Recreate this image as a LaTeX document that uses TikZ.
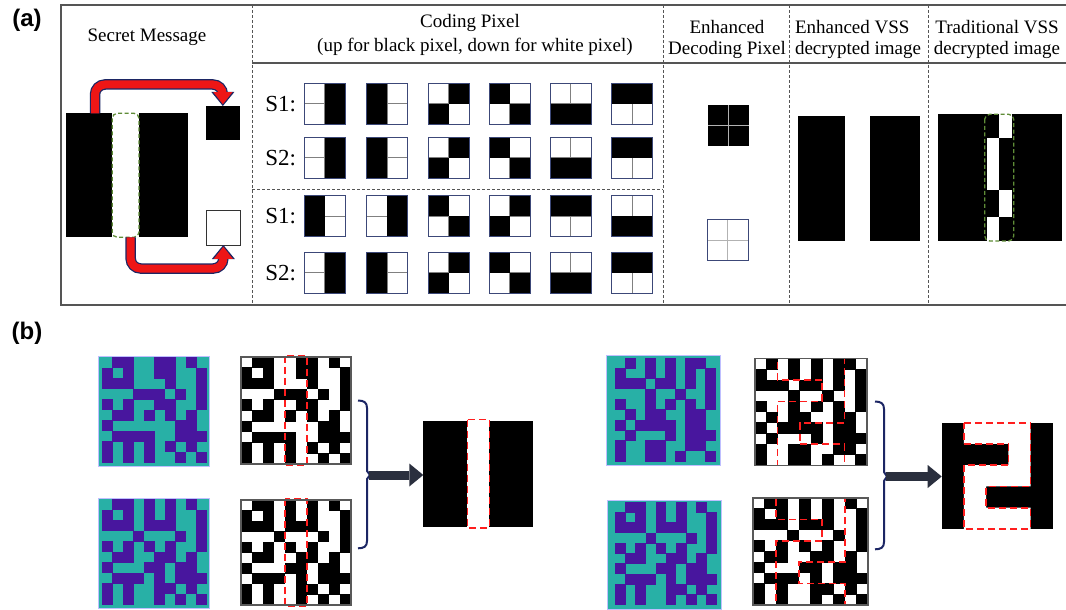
\documentclass[tikz,border=0pt]{standalone}
\usepackage{fontspec}
\setmainfont{Liberation Serif}
\newfontfamily\labfont{Liberation Sans}
\usetikzlibrary{arrows.meta,calc}
\definecolor{tealc}{RGB}{40,176,166}
\definecolor{purp}{RGB}{72,22,158}
\definecolor{navyc}{RGB}{28,38,100}
\definecolor{framegray}{RGB}{85,85,85}
\definecolor{pixborder}{RGB}{60,72,120}
\definecolor{arrowdark}{RGB}{42,47,62}
\definecolor{redarr}{RGB}{238,22,22}
\definecolor{greendash}{RGB}{95,140,55}
\definecolor{reddash}{RGB}{255,30,30}

% share 2 (common to both examples)
\def\patS{{0,1,1,0,1,0,1,0,1,0},{1,0,1,0,1,0,1,0,0,1},{1,1,1,0,1,1,1,0,0,1},{0,0,0,1,0,0,0,1,0,1},{1,0,1,0,1,0,1,0,0,1},{0,1,1,0,0,1,1,0,1,0},{1,0,0,0,1,1,0,1,1,0},{0,1,1,1,0,1,0,1,1,1},{1,0,1,0,0,1,1,0,1,0},{1,0,1,0,0,1,0,1,0,1}}
% share 1, left example
\def\patLA{{0,1,1,0,0,1,1,0,1,0},{1,0,1,0,0,1,1,0,0,1},{1,1,1,0,0,0,1,0,0,1},{0,0,0,1,1,1,0,1,0,1},{1,0,1,0,0,1,1,0,0,1},{0,1,1,0,1,0,1,0,1,0},{1,0,0,0,0,0,0,1,1,0},{0,1,1,1,1,0,0,1,1,1},{1,0,1,0,1,0,1,0,1,0},{1,0,1,0,1,0,0,1,0,1}}
% share 1, right example
\def\patRA{{0,1,0,1,0,1,0,1,1,0},{1,0,0,1,0,1,0,1,0,1},{1,1,1,0,1,1,0,1,0,1},{0,0,0,1,0,0,1,0,0,1},{1,0,0,1,0,1,0,1,0,1},{0,1,0,1,1,0,0,1,1,0},{1,0,1,1,1,1,0,1,1,0},{0,1,0,0,0,1,0,1,1,1},{1,0,0,1,1,0,0,1,1,0},{1,0,0,1,1,0,1,0,0,1}}

\newcommand\pixgrid[2]{%
  \foreach \gr [count=\ri from 0] in #2 {%
    \foreach \gv [count=\ci from 0] in \gr {%
      \ifnum\gv=1 \fill[#1] (\ci-0.03,\ri-0.03) rectangle (\ci+1.03,\ri+1.03);\fi
    }}}

% coding pixel: x, y, name, TL, TR, BL, BR
\newcommand\cpx[7]{%
  \node[anchor=north west, minimum size=41pt] (#3) at (#1,#2) {};
  \draw[gray, line width=0.8pt] (#3.north) -- (#3.south) (#3.west) -- (#3.east);
  \ifnum#4=1 \fill (#3.north west) rectangle (#3.center);\fi
  \ifnum#5=1 \fill (#3.north) rectangle (#3.east);\fi
  \ifnum#6=1 \fill (#3.west) rectangle (#3.south);\fi
  \ifnum#7=1 \fill (#3.center) rectangle (#3.south east);\fi
  \draw[pixborder, line width=0.9pt] (#3.north west) rectangle (#3.south east);
}

\begin{document}
\begin{tikzpicture}[x=1pt,y=-1pt,
  every node/.style={inner sep=0pt, outer sep=0pt},
  hdr/.style={font=\fontsize{19}{21}\selectfont},
  slab/.style={font=\fontsize{23}{25}\selectfont, anchor=east},
  plab/.style={font=\labfont\bfseries\fontsize{24}{26}\selectfont},
  frame/.style={draw=framegray, line width=1.3pt},
  sepline/.style={draw=framegray, line width=0.9pt, dash pattern=on 3pt off 2pt},
  imgbox/.style={anchor=north west},
  redout/.style={draw=navyc, line width=10.5pt, rounded corners=10pt, -{Triangle[length=14pt,width=23pt,line width=0pt]}},
  redin/.style={draw=redarr, line width=8pt, rounded corners=10pt, shorten >=1.8pt, -{Triangle[length=12pt,width=19pt,line width=0pt]}},
  darrow/.style={draw=arrowdark, line width=9pt, -{Triangle[length=14pt,width=23pt,line width=0pt]}},
  brace/.style={draw=navyc, line width=2pt},
  redd/.style={draw=reddash, line width=1.6pt, dash pattern=on 7pt off 4pt},
  greend/.style={draw=greendash, line width=1.3pt, dash pattern=on 4pt off 2.5pt, rounded corners=5pt},
  tealframe/.style={draw=blue!25, line width=0.8pt},
  bwframe/.style={draw=gray!70!black, line width=1.6pt}]
\useasboundingbox (0,0) rectangle (1066,610);
\fill[white] (0,0) rectangle (1066,610);

% ---------- (a) frame ----------
\draw[frame] (1066,5) -- (61,5) -- (61,305) -- (1066,305);
\draw[frame] (252,63) -- (1066,63);
\foreach \xx in {252,663,789,928} \draw[sepline] (\xx,5) -- (\xx,305);
\draw[sepline] (252,189) -- (663,189);

\node[plab] (la) at (27,20) {(a)};
\node[plab] (lb) at (27,333) {(b)};

\node[hdr] (t1) at (147,37) {Secret Message};
\node[hdr] (t2) at (470,23) {Coding Pixel};
\node[hdr] (t3) at (475,47) {(up for black pixel, down for white pixel)};
\node[hdr] (t4) at (727,27) {Enhanced};
\node[hdr] (t5) at (727,50) {Decoding Pixel};
\node[hdr, anchor=west] (t6) at (795,27) {Enhanced VSS};
\node[hdr, anchor=west] (t7) at (795,50) {decrypted image};
\node[hdr] (t8) at (997,27) {Traditional VSS};
\node[hdr] (t9) at (997,50) {decrypted image};

% ---------- secret message ----------
\node[imgbox, fill=black, minimum width=122pt, minimum height=124pt] (secret) at (65.7,113.3) {};
\node[imgbox, fill=white, minimum width=26.7pt, minimum height=124pt] (stripe) at (112.3,113.3) {};
\draw[greend] (stripe.north west) rectangle (stripe.south east);
\node[imgbox, fill=black, minimum width=34.3pt, minimum height=34pt] (bpix) at (205.7,106) {};
\node[imgbox, draw=black!80, line width=0.8pt, minimum width=33.3pt, minimum height=35pt] (wpix) at (206.7,210) {};

\draw[redout] ($(secret.north west)+(29.3,0)$) |- ($(bpix.north)+(0,-21.5)$) -- (bpix.north);
\draw[redin]  ($(secret.north west)+(29.3,0)$) |- ($(bpix.north)+(0,-21.5)$) -- (bpix.north);
\draw[redout] ($(stripe.south)+(5,0)$) |- ($(wpix.south)+(0,23.5)$) -- (wpix.south);
\draw[redin]  ($(stripe.south)+(5,0)$) |- ($(wpix.south)+(0,23.5)$) -- (wpix.south);

% ---------- coding pixels ----------
\node[slab] (s1a) at (296,104) {S1:};
\node[slab] (s2a) at (296,158) {S2:};
\node[slab] (s1b) at (296,216) {S1:};
\node[slab] (s2b) at (296,273) {S2:};

\cpx{304}{83.3}{p11}0101 \cpx{366.7}{83.3}{p12}1010 \cpx{428.3}{83.3}{p13}0110
\cpx{489.3}{83.3}{p14}1001 \cpx{550}{83.3}{p15}0011 \cpx{611.7}{83.3}{p16}1100

\cpx{304}{137.3}{p21}0101 \cpx{366.7}{137.3}{p22}1010 \cpx{428.3}{137.3}{p23}0110
\cpx{489.3}{137.3}{p24}1001 \cpx{550}{137.3}{p25}0011 \cpx{611.7}{137.3}{p26}1100

\cpx{304}{195.7}{p31}1010 \cpx{366.7}{195.7}{p32}0101 \cpx{428.3}{195.7}{p33}1001
\cpx{489.3}{195.7}{p34}0110 \cpx{550}{195.7}{p35}1100 \cpx{611.7}{195.7}{p36}0011

\cpx{304}{252.3}{p41}0101 \cpx{366.7}{252.3}{p42}1010 \cpx{428.3}{252.3}{p43}0110
\cpx{489.3}{252.3}{p44}1001 \cpx{550}{252.3}{p45}0011 \cpx{611.7}{252.3}{p46}1100

% ---------- enhanced decoding pixels ----------
\node[imgbox, fill=black, minimum size=41pt] (edb) at (708,105) {};
\draw[gray!60, line width=0.6pt] (edb.north) -- (edb.south) (edb.west) -- (edb.east);
\node[imgbox, minimum size=41pt] (edw) at (707,219.5) {};
\draw[gray!60, line width=0.6pt] (edw.north) -- (edw.south) (edw.west) -- (edw.east);
\draw[pixborder, line width=0.9pt] (edw.north west) rectangle (edw.south east);

% ---------- enhanced VSS decrypted ----------
\node[imgbox, fill=black, minimum width=47pt, minimum height=125pt] (ev1) at (798,116) {};
\node[imgbox, fill=black, minimum width=50pt, minimum height=125pt] (ev2) at (870,116) {};

% ---------- traditional VSS decrypted ----------
\node[imgbox, fill=black, minimum width=124.4pt, minimum height=126.4pt] (tv) at (938,114.3) {};
\fill[white] (999.2,114.3) rectangle (1011.7,137.7);
\fill[white] (986.7,137.7) rectangle (999.2,190);
\fill[white] (999.2,190) rectangle (1011.7,216.7);
\fill[white] (986.7,216.7) rectangle (999.2,240.7);
\draw[greend] (984.7,114.3) rectangle (1013.7,241);

% ---------- (b) left ----------
\node[imgbox, fill=tealc, minimum width=111pt, minimum height=110pt] (tealLA) at (98,356) {};
\begin{scope}[shift={(102,357.5)}, xscale=10.5, yscale=10.5] \pixgrid{purp}{\patLA} \end{scope}
\draw[tealframe] (tealLA.north west) rectangle (tealLA.south east);

\node[imgbox, fill=tealc, minimum width=111pt, minimum height=110pt] (tealLB) at (98,498) {};
\begin{scope}[shift={(102,499.5)}, xscale=10.5, yscale=10.5] \pixgrid{purp}{\patS} \end{scope}
\draw[tealframe] (tealLB.north west) rectangle (tealLB.south east);

\node[imgbox, fill=white, minimum width=110pt, minimum height=107pt] (bwLA) at (241,357) {};
\begin{scope}[shift={(241,357)}, xscale=11, yscale=10.7]
  \pixgrid{black}{\patLA}
  \draw[redd] (4,-0.1) rectangle (6,10.1);
\end{scope}
\draw[bwframe] (bwLA.north west) rectangle (bwLA.south east);

\node[imgbox, fill=white, minimum width=110pt, minimum height=105pt] (bwLB) at (241,500) {};
\begin{scope}[shift={(241,500)}, xscale=11, yscale=10.5]
  \pixgrid{black}{\patS}
  \draw[redd] (4,-0.1) rectangle (6,10.1);
\end{scope}
\draw[bwframe] (bwLB.north west) rectangle (bwLB.south east);

\draw[brace] (358,400.5) .. controls (364,400.5) and (367,402.5) .. (367,408) -- (367,471) -- (370,475) -- (367,479) -- (367,541) .. controls (367,546.5) and (364,548.3) .. (358,548.3);
\coordinate (bL) at (369,475);

\node[imgbox, fill=black, minimum width=110pt, minimum height=106pt] (decL) at (423.3,420.7) {};
\begin{scope}[shift={(423.3,420.7)}, xscale=11, yscale=10.6]
  \fill[white] (4,0) rectangle (6,10);
  \draw[redd] (4,-0.1) rectangle (6,10.1);
\end{scope}
\draw[darrow] (bL) -- (bL -| decL.west);

% ---------- (b) right ----------
\node[imgbox, fill=tealc, minimum width=114pt, minimum height=110pt] (tealRA) at (606.7,355.3) {};
\begin{scope}[shift={(615.7,358)}, xscale=10, yscale=10.33] \pixgrid{purp}{\patRA} \end{scope}
\draw[tealframe] (tealRA.north west) rectangle (tealRA.south east);

\node[imgbox, fill=tealc, minimum width=114pt, minimum height=109pt] (tealRB) at (607,500) {};
\begin{scope}[shift={(615.5,502)}, xscale=10.1, yscale=10.3] \pixgrid{purp}{\patS} \end{scope}
\draw[tealframe] (tealRB.north west) rectangle (tealRB.south east);

\node[imgbox, fill=white, minimum width=112pt, minimum height=107pt] (bwRA) at (755,358.5) {};
\begin{scope}[shift={(755,358.5)}, xscale=11.2, yscale=10.7]
  \pixgrid{black}{\patRA}
  \draw[redd] (2,0) -- (8,0) -- (8,6) -- (4,6) -- (4,8) -- (8,8) -- (8,10) -- (2,10) -- (2,4) -- (6,4) -- (6,2) -- (2,2) -- cycle;
\end{scope}
\draw[bwframe] (bwRA.north west) rectangle (bwRA.south east);

\node[imgbox, fill=white, minimum width=115pt, minimum height=107pt] (bwRB) at (753,498) {};
\begin{scope}[shift={(753,498)}, xscale=11.5, yscale=10.7]
  \pixgrid{black}{\patS}
  \draw[redd] (2,0) -- (8,0) -- (8,6) -- (4,6) -- (4,8) -- (8,8) -- (8,10) -- (2,10) -- (2,4) -- (6,4) -- (6,2) -- (2,2) -- cycle;
\end{scope}
\draw[bwframe] (bwRB.north west) rectangle (bwRB.south east);

\draw[brace] (875,401.5) .. controls (881,401.5) and (884,403.5) .. (884,409) -- (884,472) -- (887,476.5) -- (884,481) -- (884,542) .. controls (884,547.5) and (881,549.3) .. (875,549.3);
\coordinate (bR) at (886,476.5);

\node[imgbox, fill=black, minimum width=111pt, minimum height=106.3pt] (decR) at (941.7,422.7) {};
\begin{scope}[shift={(941.7,422.7)}, xscale=11.1, yscale=10.63]
  \fill[white] (2,0) -- (8,0) -- (8,6) -- (4,6) -- (4,8) -- (8,8) -- (8,10) -- (2,10) -- (2,4) -- (6,4) -- (6,2) -- (2,2) -- cycle;
  \draw[redd] (2,0) -- (8,0) -- (8,6) -- (4,6) -- (4,8) -- (8,8) -- (8,10) -- (2,10) -- (2,4) -- (6,4) -- (6,2) -- (2,2) -- cycle;
\end{scope}
\draw[darrow] (bR) -- (bR -| decR.west);
\end{tikzpicture}
\end{document}
